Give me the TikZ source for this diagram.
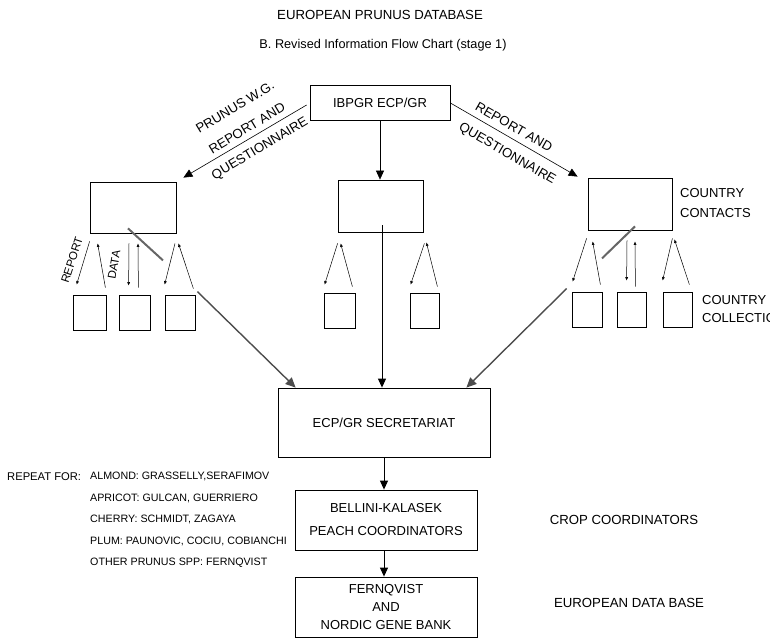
\documentclass[tikz,border=0pt]{standalone}
\usepackage{fontspec}
\setmainfont{Liberation Sans}
\usetikzlibrary{arrows.meta,calc}

\begin{document}
\begin{tikzpicture}[x=1pt,y=-1pt,
    box/.style={draw, line width=0.8pt, inner sep=0pt, align=center, font=\fontsize{13}{23}\selectfont},
    cellbox/.style={draw, line width=0.8pt, minimum width=30pt, minimum height=35pt, inner sep=0pt},
    lbl/.style={inner sep=0pt, font=\fontsize{13.2}{18}\selectfont},
    flow/.style={line width=0.6pt, -{Triangle[length=9pt,width=8pt]}},
    feed/.style={line width=1.4pt, draw=black!70, -{Triangle[length=10pt,width=9pt]}},
    leg/.style={line width=0.5pt, -{Latex[length=3.5pt,width=3pt]}},
    smear/.style={line width=2pt, draw=black!60}]
        \useasboundingbox (0,0) rectangle (770,639);

        % Heading
        \node[lbl] (title) at (380,15) {EUROPEAN PRUNUS DATABASE};
        \node[lbl, font=\fontsize{12.7}{14}\selectfont] (sub) at (383,45) {B. Revised Information Flow Chart (stage 1)};

        % Row 1: IBPGR and the country contacts
        \node[box, minimum width=140pt, minimum height=35pt] (ibpgr) at (380,102.5) {IBPGR ECP/GR};
        \node[box, minimum width=86pt, minimum height=51pt] (lcont) at (133,207.5) {};
        \node[box, minimum width=85pt, minimum height=52pt] (ccont) at (380.5,206) {};
        \node[box, minimum width=84pt, minimum height=52pt] (rcont) at (630,204) {};
        \node[lbl, anchor=west, align=left, font=\fontsize{13}{20}\selectfont] (contacts) at (680,203) {COUNTRY\\CONTACTS};

        \draw[flow] ($(ibpgr.west)+(-3,2.5)$) -- ($(lcont.north east)+(7,-4)$);
        \draw[flow] (ibpgr.south) -- (ibpgr.south |- ccont.north);
        \draw[flow] ($(ibpgr.east)+(0,0.5)$) -- ($(rcont.north west)+(-10,-1)$);

        \node[lbl, rotate=31] (lwg) at (235,107) {PRUNUS W.G.};
        \node[lbl, rotate=31] (lrep) at (247,128) {REPORT AND};
        \node[lbl, rotate=31] (lquest) at (260,149) {QUESTIONNAIRE};
        \node[lbl, rotate=-30] (rrep) at (514,127) {REPORT AND};
        \node[lbl, rotate=-30] (rquest) at (507,154) {QUESTIONNAIRE};

        % Row 2: country collections
        \node[cellbox, minimum width=33pt] (l1) at (89.5,312.5) {};
        \node[cellbox, minimum width=31pt] (l2) at (134.5,312.5) {};
        \node[cellbox] (l3) at (180,312.5) {};
        \node[cellbox, minimum width=31pt] (c1) at (339.5,310.5) {};
        \node[cellbox, minimum width=29pt] (c2) at (424.5,310.5) {};
        \node[cellbox] (r1) at (587,309.5) {};
        \node[cellbox, minimum width=29pt] (r2) at (631.5,309.5) {};
        \node[cellbox, minimum width=29pt] (r3) at (677.5,309.5) {};
        \node[lbl, anchor=west, align=left, font=\fontsize{13}{18}\selectfont] (collect) at (702,309) {COUNTRY\\COLLECTIONS};

        % left group
        \draw[leg] ($(lcont.south west)+(0,8)$) -- ($(l1.north west)+(4,-10)$);
        \draw[leg] ($(l1.north east)+(-1,-7)$) -- ($(lcont.south west)+(8,10)$);
        \draw[leg] ($(lcont.south)+(-4,10)$) -- ($(l2.north west)+(10,-9)$);
        \draw[leg] ($(l2.north east)+(-12,-7)$) -- ($(lcont.south)+(5,10)$);
        \draw[leg] ($(lcont.south)+(42,10)$) -- ($(l3.north west)+(0,-10)$);
        \draw[leg] ($(l3.north east)+(-2,-6)$) -- ($(lcont.south east)+(2,10)$);
        \node[lbl, rotate=72, font=\fontsize{11.5}{13}\selectfont] (repword) at (72,260) {REPORT};
        \node[lbl, rotate=80, font=\fontsize{11.5}{13}\selectfont] (dataword) at (114,265) {DATA};
        \draw[smear] ($(lcont.south)+(-5,-5)$) -- ++(35,32);

        % centre group
        \draw[leg] ($(ccont.south west)+(0,11)$) -- ($(c1.north west)+(1,-8)$);
        \draw[leg] ($(c1.north east)+(-3,-6)$) -- ($(ccont.south west)+(3,11)$);
        \draw[leg] ($(ccont.south east)+(1,11)$) -- ($(c2.north west)+(1,-8)$);
        \draw[leg] ($(c2.north east)+(-2,-6)$) -- ($(ccont.south east)+(3,10)$);

        % right group
        \draw[leg] ($(rcont.south west)+(-1,8)$) -- ($(r1.north west)+(1,-10)$);
        \draw[leg] ($(r1.north east)+(-2,-7)$) -- ($(rcont.south west)+(5,11)$);
        \draw[leg] ($(rcont.south)+(-3,10)$) -- ($(r2.north west)+(10,-11)$);
        \draw[leg] ($(r2.north east)+(-11,-5)$) -- ($(rcont.south)+(5,11)$);
        \draw[leg] ($(rcont.south east)+(0,8)$) -- ($(r3.north west)+(0,-11)$);
        \draw[leg] ($(r3.north east)+(-3,-7)$) -- ($(rcont.south east)+(2,9)$);
        \draw[smear] ($(rcont.south)+(5,-4)$) -- ++(-33,32);

        % Row 3: secretariat and coordinators
        \node[box, minimum width=212pt, minimum height=69pt] (secr) at (384,422.5) {ECP/GR SECRETARIAT};
        \node[box, minimum width=182pt, minimum height=60pt] (bell) at (386,520) {BELLINI-KALASEK\\PEACH COORDINATORS};
        \node[box, minimum width=182pt, minimum height=60pt, font=\fontsize{13}{18}\selectfont] (fern) at (386,607) {FERNQVIST\\AND\\NORDIC GENE BANK};
        \node[lbl] (cropc) at (624,520) {CROP COORDINATORS};
        \node[lbl] (eudb) at (629,603) {EUROPEAN DATA BASE};

        \coordinate (cdrop) at ($(ccont.south)+(1.5,-7)$);
        \draw[flow, line width=1pt] (cdrop) -- (cdrop |- secr.north);
        \draw[feed] ($(l3.north east)+(2,-3)$) -- ($(secr.north west)+(18,0)$);
        \draw[feed] ($(r1.north west)+(-5,-3)$) -- ($(secr.north east)+(-24,0)$);
        \draw[flow, line width=1pt] (secr.south) -- (secr.south |- bell.north);
        \draw[flow, line width=1pt] (secr.south |- bell.south) -- (secr.south |- fern.north);

        % crops to repeat
        \node[lbl, anchor=west, font=\fontsize{11.2}{12}\selectfont] (repeat) at (7,477) {REPEAT FOR:};
        \node[lbl, anchor=west, align=left, font=\fontsize{10.7}{21.5}\selectfont] (crops) at (90,520)
            {ALMOND: GRASSELLY,SERAFIMOV\\APRICOT: GULCAN, GUERRIERO\\CHERRY: SCHMIDT, ZAGAYA\\PLUM: PAUNOVIC, COCIU, COBIANCHI\\OTHER PRUNUS SPP: FERNQVIST};
    \end{tikzpicture}
\end{document}
